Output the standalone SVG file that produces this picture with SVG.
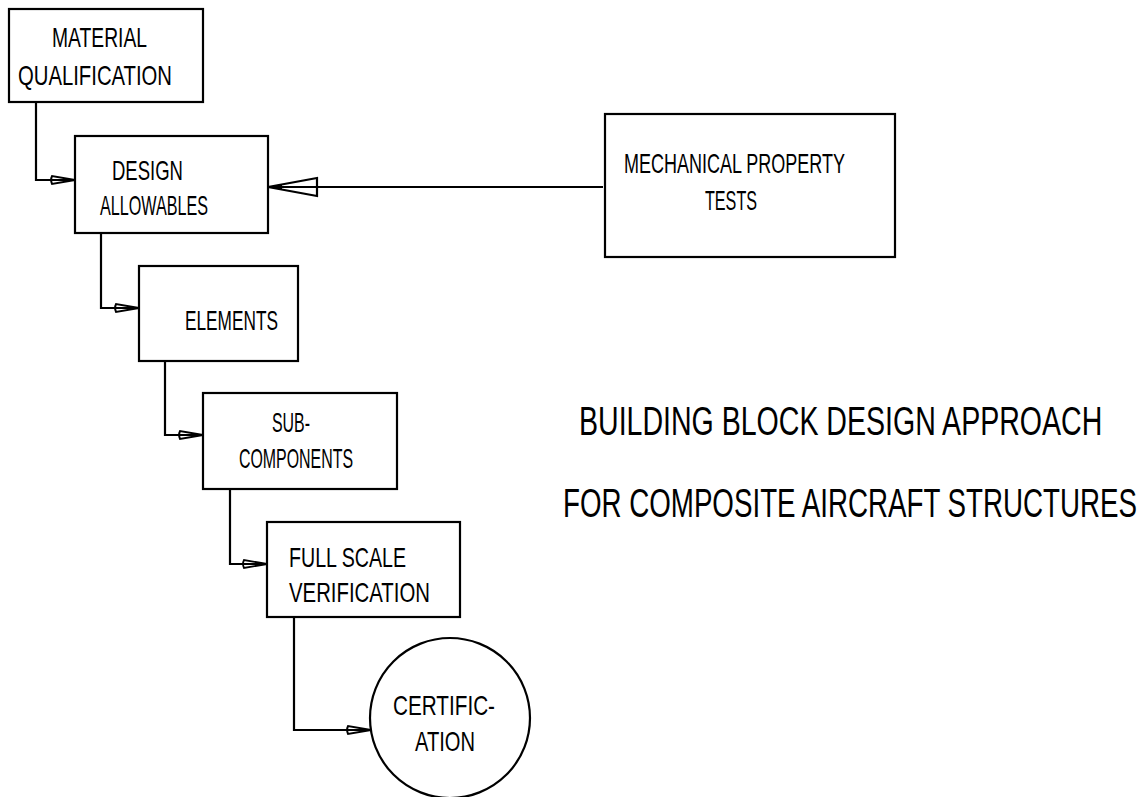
<svg xmlns="http://www.w3.org/2000/svg" width="1146" height="797" viewBox="0 0 1146 797">
<style>
.box{fill:#fff;stroke:#000;stroke-width:2.2}
.lbl{font-family:"Liberation Sans Narrow","Liberation Sans",Arial,sans-serif;font-size:28px;fill:#000}
.ttl{font-family:"Liberation Sans Narrow","Liberation Sans",Arial,sans-serif;font-size:40px;fill:#000}
.con{fill:none;stroke:#000;stroke-width:2.2}
</style>
<defs>
<marker id="sm" markerUnits="userSpaceOnUse" markerWidth="30" markerHeight="12" refX="26" refY="6" orient="auto" overflow="visible">
<path d="M26,6 L3,2 Q1,6 3,10 Z" fill="none" stroke="#000" stroke-width="1.8"/>
<path d="M26,6 L15,4 L15,8 Z" fill="#000"/>
</marker>
<marker id="big" markerUnits="userSpaceOnUse" markerWidth="52" markerHeight="22" refX="50" refY="11" orient="auto" overflow="visible">
<path d="M50,11 L1,2 L1,20 Z" fill="none" stroke="#000" stroke-width="2.2"/>
<path d="M50,11 L36,8 L36,14 Z" fill="#000"/>
</marker>
</defs>
<rect width="1146" height="797" fill="#fff"/>
<g id="connectors">
<path class="con" d="M36,102 V180 H75" marker-end="url(#sm)"/>
<path class="con" d="M101,233 V308 H139" marker-end="url(#sm)"/>
<path class="con" d="M165,361 V435 H203" marker-end="url(#sm)"/>
<path class="con" d="M230,489 V564 H267" marker-end="url(#sm)"/>
<path class="con" d="M294,617 V730 H371" marker-end="url(#sm)"/>
<path class="con" d="M603,187 H268" marker-end="url(#big)"/>
</g>
<g id="material-qualification">
<rect class="box" x="9" y="9" width="194" height="93"/>
<text class="lbl" x="52" y="47" textLength="95" lengthAdjust="spacingAndGlyphs">MATERIAL</text>
<text class="lbl" x="18" y="85" textLength="154" lengthAdjust="spacingAndGlyphs">QUALIFICATION</text>
</g>
<g id="design-allowables">
<rect class="box" x="75" y="136" width="193" height="97"/>
<text class="lbl" x="112" y="180" textLength="71" lengthAdjust="spacingAndGlyphs">DESIGN</text>
<text class="lbl" x="100" y="215" textLength="108" lengthAdjust="spacingAndGlyphs">ALLOWABLES</text>
</g>
<g id="mechanical-property-tests">
<rect class="box" x="605" y="114" width="290" height="143"/>
<text class="lbl" x="624" y="173" textLength="221" lengthAdjust="spacingAndGlyphs">MECHANICAL PROPERTY</text>
<text class="lbl" x="705" y="210" textLength="52" lengthAdjust="spacingAndGlyphs">TESTS</text>
</g>
<g id="elements">
<rect class="box" x="139" y="266" width="159" height="95"/>
<text class="lbl" x="185" y="330" textLength="93" lengthAdjust="spacingAndGlyphs">ELEMENTS</text>
</g>
<g id="sub-components">
<rect class="box" x="203" y="393" width="194" height="96"/>
<text class="lbl" x="272" y="432" textLength="38" lengthAdjust="spacingAndGlyphs">SUB-</text>
<text class="lbl" x="239" y="468" textLength="114" lengthAdjust="spacingAndGlyphs">COMPONENTS</text>
</g>
<g id="full-scale-verification">
<rect class="box" x="267" y="522" width="193" height="95"/>
<text class="lbl" x="289" y="567" textLength="117" lengthAdjust="spacingAndGlyphs">FULL SCALE</text>
<text class="lbl" x="289" y="602" textLength="141" lengthAdjust="spacingAndGlyphs">VERIFICATION</text>
</g>
<g id="certification">
<circle class="box" cx="450" cy="718" r="80"/>
<text class="lbl" x="393" y="715" textLength="102" lengthAdjust="spacingAndGlyphs">CERTIFIC-</text>
<text class="lbl" x="415" y="751" textLength="60" lengthAdjust="spacingAndGlyphs">ATION</text>
</g>
<g id="title">
<text class="ttl" transform="translate(579,435) scale(0.65,1)" x="0" y="0" textLength="805" lengthAdjust="spacingAndGlyphs">BUILDING BLOCK DESIGN APPROACH</text>
<text class="ttl" transform="translate(563,517) scale(0.65,1)" x="0" y="0" textLength="883" lengthAdjust="spacingAndGlyphs">FOR COMPOSITE AIRCRAFT STRUCTURES</text>
</g>
</svg>
